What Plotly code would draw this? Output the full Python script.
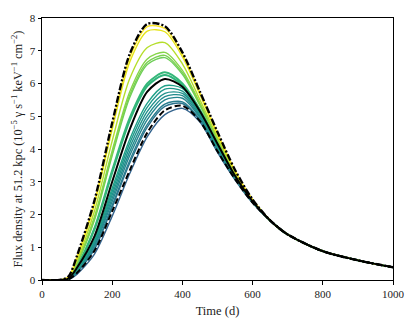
import plotly.graph_objects as go

days = [0, 50, 75, 100, 150, 200, 250, 300, 350, 400, 450, 500, 550, 600, 650, 700, 800, 900, 1000]
tail = [1.82, 1.39, 0.88, 0.60, 0.39]  # shared decline after ~600 d

# coloured model curves, highest peak first
model_colors = ["#fde725", "#e5e419", "#b5de2b", "#86d549", "#7ad151", "#6ece58",
                "#35b779", "#2fb47c", "#1fa188", "#1f988b", "#21918c", "#228c8d",
                "#25858e", "#287d8e", "#2c728e", "#33638d"]
model_flux = [
    [0, 0, 0.09, 0.72, 2.40, 4.72, 6.80, 7.74, 7.68, 6.90, 5.72, 4.48, 3.34, 2.45],
    [0, 0, 0.08, 0.68, 2.33, 4.60, 6.66, 7.60, 7.58, 6.82, 5.66, 4.44, 3.32, 2.45],
    [0, 0, 0.07, 0.60, 2.12, 4.25, 6.15, 7.10, 7.25, 6.60, 5.50, 4.36, 3.28, 2.44],
    [0, 0, 0.06, 0.54, 1.95, 3.95, 5.75, 6.75, 6.95, 6.40, 5.40, 4.30, 3.25, 2.43],
    [0, 0, 0.06, 0.52, 1.90, 3.87, 5.65, 6.65, 6.86, 6.33, 5.36, 4.28, 3.24, 2.43],
    [0, 0, 0.05, 0.50, 1.85, 3.80, 5.57, 6.58, 6.79, 6.28, 5.33, 4.26, 3.23, 2.42],
    [0, 0, 0.04, 0.42, 1.60, 3.35, 4.95, 6.00, 6.34, 6.00, 5.20, 4.20, 3.20, 2.41],
    [0, 0, 0.04, 0.41, 1.56, 3.28, 4.87, 5.92, 6.26, 5.95, 5.17, 4.18, 3.19, 2.41],
    [0, 0, 0.03, 0.33, 1.25, 2.80, 4.30, 5.40, 5.93, 5.85, 5.12, 4.10, 3.16, 2.40],
    [0, 0, 0.03, 0.31, 1.20, 2.70, 4.18, 5.28, 5.83, 5.77, 5.08, 4.08, 3.15, 2.39],
    [0, 0, 0.03, 0.30, 1.15, 2.60, 4.05, 5.15, 5.70, 5.70, 5.05, 4.06, 3.14, 2.39],
    [0, 0, 0.02, 0.28, 1.10, 2.50, 3.92, 5.02, 5.60, 5.63, 5.00, 4.03, 3.13, 2.38],
    [0, 0, 0.02, 0.26, 1.05, 2.40, 3.80, 4.90, 5.50, 5.55, 4.96, 4.00, 3.12, 2.38],
    [0, 0, 0.02, 0.24, 0.98, 2.28, 3.65, 4.75, 5.37, 5.44, 4.90, 3.96, 3.10, 2.37],
    [0, 0, 0.02, 0.23, 0.95, 2.22, 3.57, 4.67, 5.30, 5.39, 4.87, 3.94, 3.09, 2.37],
    [0, 0, 0.01, 0.18, 0.80, 1.95, 3.25, 4.38, 5.05, 5.24, 4.82, 3.90, 3.06, 2.35],
]
model_width = [1.4, 1.4, 1.4, 1.4, 1.4, 1.4, 2.0, 2.0, 1.4, 1.4, 1.4, 1.4, 1.4, 1.4, 1.4, 1.4]

# black reference curves
solid_flux = [0, 0, 0.04, 0.38, 1.35, 3.00, 4.60, 5.75, 6.14, 5.90, 5.15, 4.16, 3.18, 2.40]
dashed_flux = [0, 0, 0.02, 0.22, 0.90, 2.10, 3.35, 4.50, 5.18, 5.32, 4.85, 3.93, 3.08, 2.36]
dashdot_flux = [0, 0, 0.10, 0.75, 2.45, 4.80, 6.90, 7.82, 7.75, 6.95, 5.75, 4.52, 3.36, 2.46]

fig = go.Figure()

for flux, col, w in zip(model_flux[::-1], model_colors[::-1], model_width[::-1]):
    fig.add_trace(go.Scatter(x=days, y=flux + tail, mode="lines",
                             line=dict(color=col, width=w, shape="spline", smoothing=0.8)))

fig.add_trace(go.Scatter(x=days, y=solid_flux + tail, mode="lines",
                         line=dict(color="black", width=2, shape="spline", smoothing=0.8)))
fig.add_trace(go.Scatter(x=days, y=dashed_flux + tail, mode="lines",
                         line=dict(color="black", width=2, dash="6px,3px", shape="spline", smoothing=0.8)))
fig.add_trace(go.Scatter(x=days, y=dashdot_flux + tail, mode="lines",
                         line=dict(color="black", width=2.4, dash="7px,2px,2px,2px", shape="spline", smoothing=0.8)))

axis_style = dict(showline=True, linecolor="black", linewidth=1, mirror=True,
                  ticks="outside", ticklen=3.5, tickcolor="black", showgrid=False,
                  zeroline=False, automargin=False, tickfont=dict(size=11, color="#222"))

# the page body adds an 8px offset, so the figure is 8px smaller than the window
fig.update_layout(
    width=407, height=319,
    margin=dict(l=34, r=22, t=10, b=47),
    paper_bgcolor="white", plot_bgcolor="white",
    showlegend=False,
    font=dict(family="Liberation Serif, DejaVu Serif, serif", color="#222"),
    xaxis=dict(range=[0, 1000], tickvals=[0, 200, 400, 600, 800, 1000],
               title=dict(text="Time (d)", font=dict(size=12.5), standoff=7), **axis_style),
    yaxis=dict(range=[0, 8], dtick=1,
               title=dict(text="Flux density at 51.2 kpc (10<sup>\u22125</sup> \u03b3 s<sup>\u22121</sup> keV<sup>\u22121</sup> cm<sup>\u22122</sup>)",
                          font=dict(size=12.3), standoff=4), **axis_style),
)

fig.write_html("out.html")
